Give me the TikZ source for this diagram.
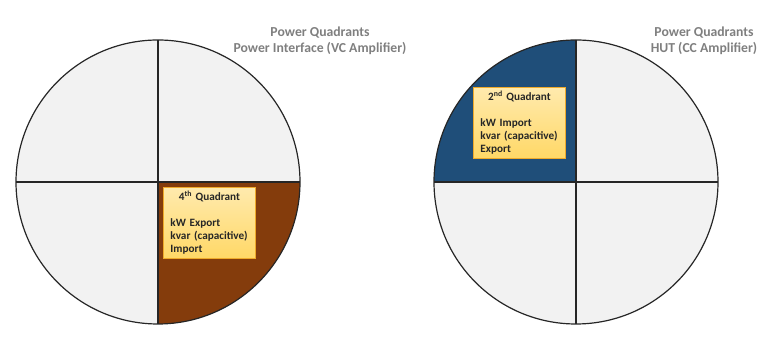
\documentclass[tikz,border=0pt]{standalone}
\usepackage{fontspec}
\setmainfont{Carlito}
\usetikzlibrary{positioning}
\definecolor{quadgrey}{HTML}{F2F2F2}
\definecolor{quadbrown}{HTML}{843C0C}
\definecolor{quadblue}{HTML}{1F4E79}
\definecolor{boxtop}{HTML}{FFEAAE}
\definecolor{boxbottom}{HTML}{FFD866}
\definecolor{boxline}{HTML}{EFAA2A}
\definecolor{titlegrey}{HTML}{7F7F7F}
\begin{document}
\begin{tikzpicture}[x=1pt,y=1pt,
	quadcircle/.style={circle,fill=quadgrey,inner sep=0pt,outer sep=0pt,minimum size=284pt},
	divider/.style={draw=black!85,line width=1.2pt},
	infobox/.style={draw=boxline,line width=0.9pt,top color=boxtop,bottom color=boxbottom,
		text=black!85,text width=78pt,inner xsep=7pt,inner ysep=4pt,anchor=north west,
		font=\fontsize{11.2}{13}\selectfont\bfseries},
	heading/.style={align=center,text=titlegrey,font=\fontsize{13.7}{16}\selectfont\bfseries}]
			\useasboundingbox (0,0) rectangle (772,342);
			% left: power interface
			\node [quadcircle] (lcirc) at (158,160) {};
			\fill [quadbrown] (lcirc.center) -- (lcirc.east) arc (0:-90:142) -- cycle;
			\draw [divider] (lcirc.north) -- (lcirc.south);
			\draw [divider] (lcirc.west) -- (lcirc.east);
			\draw [divider] (lcirc.center) circle (142);
			\node [heading] (ltitle) at (320,301) {Power Quadrants\\Power Interface (VC Amplifier)};
			\node [infobox] (lbox) at (163,155) {\centering 4\textsuperscript{th} Quadrant\par\vspace{13pt}\raggedright
				kW Export\\kvar (capacitive)\\Import};
			% right: hut
			\node [quadcircle] (rcirc) at (576,160) {};
			\fill [quadblue] (rcirc.center) -- (rcirc.west) arc (180:90:142) -- cycle;
			\draw [divider] (rcirc.north) -- (rcirc.south);
			\draw [divider] (rcirc.west) -- (rcirc.east);
			\draw [divider] (rcirc.center) circle (142);
			\node [heading] (rtitle) at (704,301) {Power Quadrants\\HUT (CC Amplifier)};
			\node [infobox] (rbox) at (473,255) {\centering 2\textsuperscript{nd} Quadrant\par\vspace{13pt}\raggedright
				kW Import\\kvar (capacitive)\\Export};
\end{tikzpicture}
\end{document}
